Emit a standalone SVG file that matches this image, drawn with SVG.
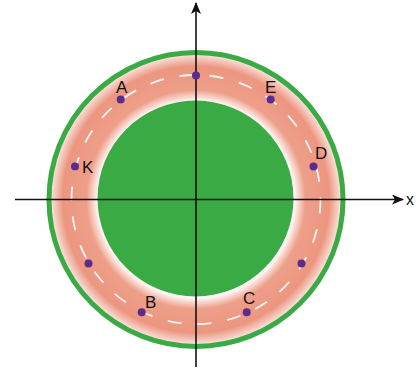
<svg xmlns="http://www.w3.org/2000/svg" width="420" height="371" viewBox="0 0 420 371">
<defs>
<radialGradient id="ring" gradientUnits="userSpaceOnUse" cx="196" cy="199.5" r="148">
<stop offset="0.66" stop-color="#ffffff"/>
<stop offset="0.74" stop-color="#ee9f89"/>
<stop offset="0.9" stop-color="#ec9680"/>
<stop offset="0.975" stop-color="#f9ded6"/>
<stop offset="1" stop-color="#ffffff"/>
</radialGradient>
<marker id="arr" viewBox="0 0 12 10" refX="11" refY="5" markerWidth="12" markerHeight="10" markerUnits="userSpaceOnUse" orient="auto">
<path d="M0,0 L12,5 L0,10 L3,5 Z" fill="#111"/>
</marker>
<style>
.dot{fill:#5a2d8c}
.lbl{font-family:"Liberation Sans",Arial,sans-serif;font-size:17px;fill:#111}
.axis{stroke:#111;stroke-width:1.6;fill:none}
</style>
</defs>
<g id="disk">
<circle cx="196" cy="199.5" r="147" fill="url(#ring)" stroke="#3aaa45" stroke-width="5"/>
<circle cx="195.5" cy="198.5" r="98" fill="#3aaa45"/>
<circle cx="196" cy="199.5" r="124.5" fill="none" stroke="#ffffff" stroke-width="1.8" stroke-dasharray="14 16" opacity="0.9"/>
</g>
<g id="connectors">
<line class="axis" x1="15" y1="199.5" x2="403" y2="199.5" marker-end="url(#arr)"/>
<line class="axis" x1="196" y1="367" x2="196" y2="3" marker-end="url(#arr)"/>
</g>
<g id="top"><circle class="dot" cx="196" cy="75.5" r="4"/></g>
<g id="A"><circle class="dot" cx="120.7" cy="99.5" r="4"/><text class="lbl" x="116" y="93">A</text></g>
<g id="E"><circle class="dot" cx="270.7" cy="99.5" r="4"/><text class="lbl" x="265" y="93">E</text></g>
<g id="K"><circle class="dot" cx="75" cy="166.5" r="4"/><text class="lbl" x="82" y="173">K</text></g>
<g id="D"><circle class="dot" cx="313.5" cy="166.5" r="4"/><text class="lbl" x="315" y="159">D</text></g>
<g id="BL"><circle class="dot" cx="88.5" cy="263.5" r="4"/></g>
<g id="BR"><circle class="dot" cx="301.5" cy="263.5" r="4"/></g>
<g id="B"><circle class="dot" cx="141.7" cy="312.3" r="4"/><text class="lbl" x="145" y="308">B</text></g>
<g id="C"><circle class="dot" cx="246.7" cy="312.3" r="4"/><text class="lbl" x="243" y="304">C</text></g>
<g id="xlabel"><text class="lbl" x="406" y="205" style="font-size:16px">x</text></g>
</svg>
